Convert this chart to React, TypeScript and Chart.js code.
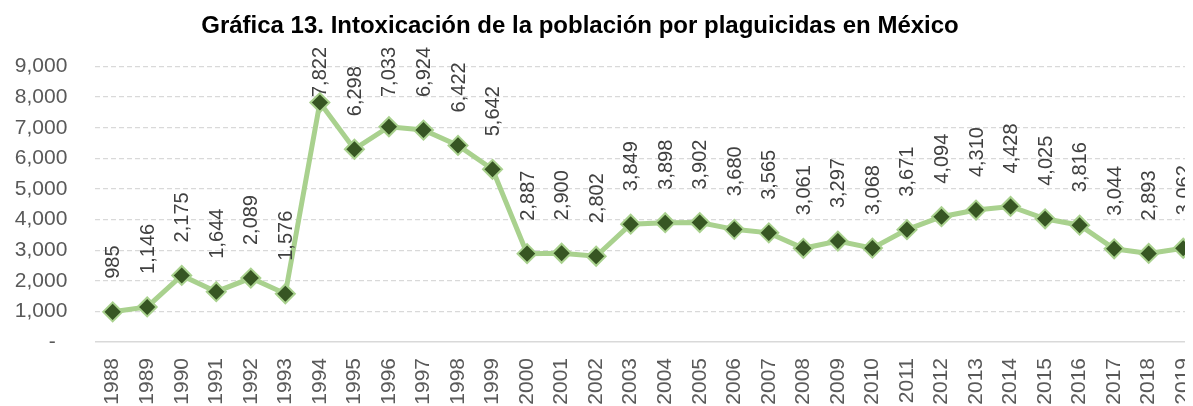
import React, { useEffect, useRef } from "react";
import { Chart, registerables } from "chart.js";

Chart.register(...registerables);

const TITLE = "Gráfica 13. Intoxicación de la población por plaguicidas en México";

const years: string[] = [
  "1988", "1989", "1990", "1991", "1992", "1993", "1994", "1995", "1996", "1997",
  "1998", "1999", "2000", "2001", "2002", "2003", "2004", "2005", "2006", "2007",
  "2008", "2009", "2010", "2011", "2012", "2013", "2014", "2015", "2016", "2017",
  "2018", "2019",
];

const intoxications: number[] = [
  985, 1146, 2175, 1644, 2089, 1576, 7822, 6298, 7033, 6924,
  6422, 5642, 2887, 2900, 2802, 3849, 3898, 3902, 3680, 3565,
  3061, 3297, 3068, 3671, 4094, 4310, 4428, 4025, 3816, 3044,
  2893, 3062,
];

const yMin = 0;
const yMax = 9000;
const yStep = 1000;

const FONT = '"Liberation Sans", Arial, sans-serif';

const fmt = (v: number) => (v === 0 ? "-  " : v.toLocaleString("en-US"));

const titlePlugin = {
  id: "customTitle",
  afterDraw(chart: any) {
    const ctx = chart.ctx;
    ctx.save();
    ctx.font = `bold 24px ${FONT}`;
    ctx.fillStyle = "#000000";
    ctx.textAlign = "center";
    ctx.textBaseline = "alphabetic";
    ctx.fillText(TITLE, 572, 24.5);
    ctx.restore();
  },
};

const valueLabelPlugin = {
  id: "valueLabels",
  afterDatasetsDraw(chart: any) {
    const ctx = chart.ctx;
    const meta = chart.getDatasetMeta(0);
    const data = chart.data.datasets[0].data as number[];
    ctx.save();
    ctx.font = `20px ${FONT}`;
    ctx.fillStyle = "#404040";
    ctx.textAlign = "left";
    ctx.textBaseline = "middle";
    meta.data.forEach((pt: any, i: number) => {
      const text = fmt(data[i]);
      const w = ctx.measureText(text).width;
      let bottom = pt.y - 33;
      const minTop = 39;
      if (bottom - w < minTop) bottom = minTop + w;
      ctx.save();
      ctx.translate(pt.x + 1, bottom);
      ctx.rotate(-Math.PI / 2);
      ctx.fillText(text, 0, 0);
      ctx.restore();
    });
    ctx.restore();
  },
};

export default function App() {
  const canvasRef = useRef<HTMLCanvasElement | null>(null);

  useEffect(() => {
    document.documentElement.style.overflow = "hidden";
    document.body.style.overflow = "hidden";
    if (!canvasRef.current) return;
    const chart = new Chart(canvasRef.current, {
      type: "line",
      data: {
        labels: years,
        datasets: [
          {
            data: intoxications,
            borderColor: "#a9d18e",
            borderWidth: 5,
            tension: 0,
            pointStyle: "rectRot",
            pointRadius: 9.5,
            pointBackgroundColor: "#375623",
            pointBorderColor: "#a9d18e",
            pointBorderWidth: 2,
            clip: false as any,
          },
        ],
      },
      options: {
        animation: false,
        responsive: false,
        devicePixelRatio: 1,
        layout: { padding: { left: 0, right: 4, top: 58.5, bottom: 0 } },
        plugins: {
          legend: { display: false },
          tooltip: { enabled: false },
          title: { display: false },
        },
        scales: {
          x: {
            offset: true,
            grid: { display: false, drawTicks: false },
            border: { display: true, color: "#d9d9d9", width: 1.5 },
            ticks: {
              autoSkip: false,
              maxRotation: 90,
              minRotation: 90,
              padding: 16,
              color: "#595959",
              font: { family: FONT, size: 21 },
            },
            afterFit: (scale: any) => {
              scale.height = 86;
              scale.paddingLeft = 0;
              scale.paddingRight = 0;
            },
          },
          y: {
            min: yMin,
            max: yMax,
            grid: {
              drawTicks: false,
              lineWidth: 1.3,
              color: (c: any) => (c.tick && c.tick.value === 0 ? "rgba(0,0,0,0)" : "#d9d9d9"),
            },
            border: { display: false, dash: [5, 3] },
            ticks: {
              stepSize: yStep,
              padding: 28,
              color: "#595959",
              font: { family: FONT, size: 21 },
              callback: (v: any) => fmt(Number(v)),
            },
            afterFit: (scale: any) => {
              scale.width = 87.4;
              scale.paddingTop = 0;
              scale.paddingBottom = 0;
            },
          },
        },
      },
      plugins: [valueLabelPlugin, titlePlugin],
    });
    return () => chart.destroy();
  }, []);

  return (
    <div style={{ width: 1185, height: 398, overflow: "hidden", position: "relative" }}>
      <canvas
        ref={canvasRef}
        width={1204}
        height={420}
        style={{ display: "block", width: 1204, height: 420 }}
      />
    </div>
  );
}
